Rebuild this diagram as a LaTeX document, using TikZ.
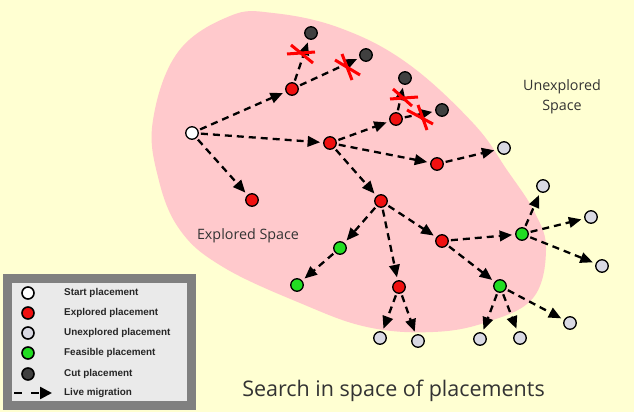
\documentclass[tikz,border=0pt]{standalone}
\usepackage{fontspec}
\setmainfont{Open Sans}
\newfontfamily\legfont{Liberation Sans}
\usetikzlibrary{arrows.meta}
\definecolor{bgc}{HTML}{FFFFD2}
\definecolor{pinkc}{HTML}{FFC9CC}
\definecolor{redc}{HTML}{F01010}
\definecolor{greenc}{HTML}{22DD22}
\definecolor{unexc}{HTML}{D9D9E3}
\definecolor{cutc}{HTML}{404040}
\definecolor{legb}{HTML}{808080}
\definecolor{legf}{HTML}{EAEAEA}
\definecolor{txtc}{HTML}{333333}
\tikzset{
  pn/.style={circle, draw=black, line width=1.3pt, minimum size=12.5pt, inner sep=0pt},
  startp/.style={pn, fill=white},
  expp/.style={pn, fill=redc},
  unexp/.style={pn, fill=unexc},
  feasp/.style={pn, fill=greenc},
  cutp/.style={pn, fill=cutc},
  mig/.style={line width=2.3pt, dash pattern=on 7pt off 5pt, -{Triangle[length=12.5pt,width=10.5pt]}, shorten >=3pt, shorten <=2pt},
  xmark/.style={red, line width=3pt},
  lbl/.style={font=\legfont\bfseries\fontsize{9.9}{11}\selectfont, text=black!85, anchor=west, inner sep=0pt}
}
\begin{document}
\begin{tikzpicture}[x=1pt,y=-1pt]
\fill[bgc] (0,0) rectangle (634,412);
\useasboundingbox (0,0) rectangle (634,412);
% explored region
\fill[pinkc] plot[smooth cycle, tension=0.65] coordinates {
 (273,13) (340,28) (407,63) (473,123) (507,170) (535,213) (546,250) (533,298)
 (487,322) (433,332) (367,327) (300,303) (223,267) (180,230) (158,177) (153,120) (178,52) (230,16)};
\node[text=txtc, font=\fontsize{14.3}{16}\selectfont] (expl) at (248,236) {Explored Space};
\node[text=txtc, font=\fontsize{14.3}{20}\selectfont, align=center] (unexpl) at (562,97) {Unexplored\\Space};
% nodes
\node[startp] (s) at (192,133) {};
\node[expp] (e1) at (292,89) {};
\node[expp] (e2) at (330,143) {};
\node[expp] (e3) at (396,119) {};
\node[expp] (e4) at (252,200) {};
\node[expp] (e5) at (437,164) {};
\node[expp] (e6) at (381,201) {};
\node[expp] (e7) at (399,287) {};
\node[expp] (e8) at (442,241) {};
\node[feasp] (f1) at (340,248) {};
\node[feasp] (f2) at (297,285) {};
\node[feasp] (f3) at (522,234) {};
\node[feasp] (f4) at (500,286) {};
\node[cutp] (c1) at (311,33) {};
\node[cutp] (c2) at (366,55) {};
\node[cutp] (c3) at (405,78) {};
\node[cutp] (c4) at (442,110) {};
\node[unexp] (u1) at (504,148) {};
\node[unexp] (u2) at (380,338) {};
\node[unexp] (u3) at (418,341) {};
\node[unexp] (u4) at (543,186) {};
\node[unexp] (u5) at (591,217) {};
\node[unexp] (u6) at (602,266) {};
\node[unexp] (u7) at (480,339) {};
\node[unexp] (u8) at (520,338) {};
\node[unexp] (u9) at (570,323) {};
% migrations
\foreach \a/\b in {s/e1, s/e2, s/e4, e1/c1, e1/c2, e2/e3, e2/e5, e2/e6, e3/c3, e3/c4,
  e5/u1, e6/f1, e6/e7, e6/e8, f1/f2, e7/u2, e7/u3, e8/f3, e8/f4, f3/u4, f3/u5, f3/u6,
  f4/u7, f4/u8, f4/u9}
  \draw[mig] (\a) -- (\b);
% cuts
\draw[xmark] (287,54) -- (315,52);
\draw[xmark] (291,45) -- (313,63);
\draw[xmark] (335,60) -- (360,75);
\draw[xmark] (342,54) -- (352,80);
\draw[xmark] (390,99) -- (418,97);
\draw[xmark] (393,89) -- (412,106);
\draw[xmark] (407,110) -- (433,124);
\draw[xmark] (418,105) -- (427,130);
% legend
\draw[legb, line width=9pt, fill=legf] (7.5,278.5) rectangle (191.5,405.5);
\node[startp, minimum size=12pt, line width=1.6pt] (ls) at (28,293) {};
\node[expp, minimum size=12pt, line width=1.6pt] (le) at (28,313) {};
\node[unexp, minimum size=12pt, line width=1.6pt] (lu) at (28,333) {};
\node[feasp, minimum size=12pt, line width=1.6pt] (lf) at (28,353) {};
\node[cutp, minimum size=12pt, line width=1.6pt] (lc) at (28,374) {};
\coordinate (la1) at (14,393);
\coordinate (la2) at (52,393);
\draw[line width=2.5pt, dash pattern=on 8pt off 9pt, -{Triangle[length=12pt,width=12pt]}] (la1) -- (la2);
\node[lbl] (t1) at (64,293) {Start placement};
\node[lbl] (t2) at (64,313) {Explored placement};
\node[lbl] (t3) at (64,333) {Unexplored placement};
\node[lbl] (t4) at (64,353) {Feasible placement};
\node[lbl] (t5) at (64,374) {Cut placement};
\node[lbl] (t6) at (64,393) {Live migration};
% title
\node[text=txtc, font=\fontsize{21.5}{26}\selectfont] (title) at (393.5,391) {Search in space of placements};
\end{tikzpicture}
\end{document}
